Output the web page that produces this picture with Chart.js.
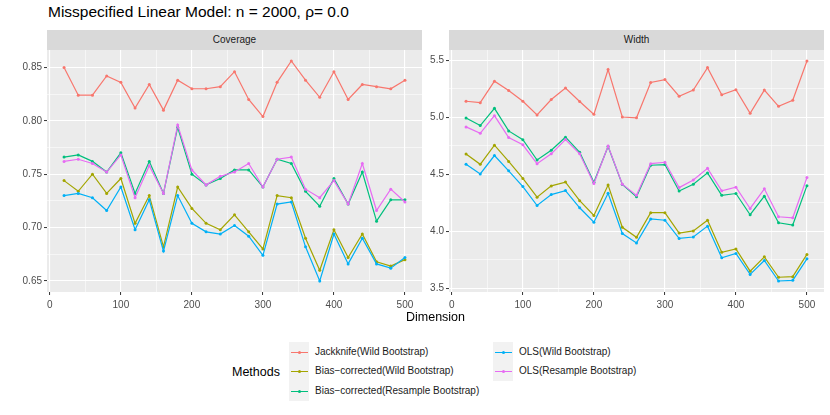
<!DOCTYPE html>
<html>
<head>
<meta charset="utf-8">
<script src="https://cdn.jsdelivr.net/npm/chart.js@4.4.0/dist/chart.umd.min.js"></script>
<style>
  body { margin: 0; background: #fff; font-family: "Liberation Sans", Arial, sans-serif; }
  #page { position: relative; width: 830px; height: 415px; overflow: hidden; }
  .abs { position: absolute; }
  .strip { background: #D9D9D9; color: #1A1A1A; font-size: 10px; text-align: center; line-height: 20px; height: 20px; }
  .panel { position: absolute; }
  .keybox { position: absolute; background: #F2F2F2; }
  .keyline { position: absolute; height: 1.3px; width: 17px; }
  .keydot { position: absolute; width: 3px; height: 3px; border-radius: 50%; }
  .keylab { position: absolute; font-size: 10px; color: #1A1A1A; line-height: 12px; white-space: nowrap; }
</style>
</head>
<body>
<div id="page">
  <div class="abs" style="left:48px; top:3px; font-size:15.5px; color:#000; white-space:nowrap;">Misspecified Linear Model: n = 2000, ρ= 0.0</div>
  <div class="abs strip" style="left:47px; top:30px; width:375px;">Coverage</div>
  <div class="abs strip" style="left:449px; top:30px; width:375px;">Width</div>
  <div class="panel" id="coverageBox" style="left:0; top:50px; width:425px; height:262px;"><canvas id="coverageChart"></canvas></div>
  <div class="panel" id="widthBox" style="left:425px; top:50px; width:405px; height:262px;"><canvas id="widthChart"></canvas></div>
  <div class="abs" style="left:0; width:871px; top:310px; text-align:center; font-size:12.5px; color:#000;">Dimension</div>
  <div class="abs" style="left:232px; top:365px; font-size:12.5px; color:#000;">Methods</div>
  <div id="legend"></div>
</div>

<script>
// --- data ---
const dimension = [20, 40, 60, 80, 100, 120, 140, 160, 180, 200, 220, 240, 260, 280, 300, 320, 340, 360, 380, 400, 420, 440, 460, 480, 500];

const methods = ['Jackknife(Wild Bootstrap)', 'Bias\u2212corrected(Wild Bootstrap)', 'Bias\u2212corrected(Resample Bootstrap)', 'OLS(Wild Bootstrap)', 'OLS(Resample Bootstrap)'];
const colors = ['#F8766D', '#A3A500', '#00BF7D', '#00B0F6', '#E76BF3'];

// Coverage
const jackCoverage    = [0.850, 0.824, 0.824, 0.842, 0.836, 0.812, 0.834, 0.810, 0.838, 0.830, 0.830, 0.832, 0.846, 0.820, 0.804, 0.836, 0.856, 0.838, 0.822, 0.846, 0.820, 0.834, 0.832, 0.830, 0.838];
const bcWildCoverage  = [0.744, 0.734, 0.750, 0.732, 0.746, 0.704, 0.730, 0.682, 0.738, 0.718, 0.704, 0.698, 0.712, 0.696, 0.680, 0.730, 0.728, 0.690, 0.660, 0.698, 0.672, 0.694, 0.668, 0.664, 0.670];
const bcResCoverage   = [0.766, 0.768, 0.762, 0.752, 0.770, 0.732, 0.762, 0.732, 0.794, 0.750, 0.740, 0.746, 0.754, 0.754, 0.738, 0.764, 0.760, 0.734, 0.720, 0.746, 0.722, 0.752, 0.706, 0.726, 0.726];
const olsWildCoverage = [0.730, 0.732, 0.728, 0.716, 0.738, 0.698, 0.726, 0.678, 0.730, 0.704, 0.696, 0.694, 0.702, 0.692, 0.674, 0.722, 0.724, 0.682, 0.650, 0.694, 0.666, 0.690, 0.666, 0.662, 0.672];
const olsResCoverage  = [0.762, 0.764, 0.760, 0.752, 0.768, 0.728, 0.758, 0.732, 0.796, 0.754, 0.740, 0.748, 0.752, 0.760, 0.738, 0.764, 0.766, 0.736, 0.728, 0.744, 0.722, 0.760, 0.716, 0.736, 0.724];

// Width
const jackWidth    = [5.140, 5.128, 5.316, 5.235, 5.140, 5.020, 5.155, 5.256, 5.138, 5.025, 5.418, 5.002, 4.995, 5.305, 5.330, 5.184, 5.238, 5.435, 5.196, 5.241, 5.034, 5.238, 5.096, 5.149, 5.493];
const bcWildWidth  = [4.678, 4.587, 4.755, 4.612, 4.463, 4.299, 4.398, 4.431, 4.268, 4.139, 4.405, 4.035, 3.947, 4.163, 4.163, 3.985, 4.003, 4.097, 3.816, 3.845, 3.650, 3.776, 3.597, 3.602, 3.797];
const bcResWidth   = [4.994, 4.927, 5.078, 4.880, 4.803, 4.625, 4.710, 4.825, 4.692, 4.430, 4.743, 4.410, 4.302, 4.579, 4.585, 4.353, 4.413, 4.512, 4.316, 4.331, 4.145, 4.308, 4.075, 4.055, 4.400];
const olsWildWidth = [4.588, 4.503, 4.664, 4.530, 4.392, 4.226, 4.322, 4.357, 4.206, 4.080, 4.334, 3.980, 3.898, 4.108, 4.097, 3.937, 3.950, 4.045, 3.768, 3.805, 3.622, 3.744, 3.564, 3.570, 3.758];
const olsResWidth  = [4.915, 4.859, 5.014, 4.822, 4.758, 4.592, 4.679, 4.804, 4.679, 4.418, 4.748, 4.413, 4.315, 4.593, 4.605, 4.383, 4.450, 4.552, 4.355, 4.386, 4.200, 4.372, 4.127, 4.118, 4.471];

// Tick labels
const dimTicks = [0, 100, 200, 300, 400, 500];
const coverageTicks = [0.65, 0.70, 0.75, 0.80, 0.85];
const widthTicks = [3.5, 4.0, 4.5, 5.0, 5.5];

document.addEventListener('DOMContentLoaded', function() {

    Chart.defaults.font.family = "'Liberation Sans', Arial, sans-serif";

    // ggplot-like 5% expansion of the data range
    function expand(arrs) {
        const all = [].concat(...arrs);
        const lo = Math.min(...all), hi = Math.max(...all);
        const pad = (hi - lo) * 0.05;
        return [lo - pad, hi + pad];
    }

    // major ticks plus minor ticks halfway between (and outside ends if in range)
    function withMinor(major, min, max) {
        const step = major[1] - major[0];
        const out = major.map(v => ({ value: v, minor: false }));
        for (let i = -1; i < major.length; i++) {
            const m = major[0] + step * (i + 0.5);
            if (m >= min && m <= max) out.push({ value: m, minor: true });
        }
        return out.sort((a, b) => a.value - b.value);
    }

    const panelBg = {
        id: 'panelBg',
        beforeDraw(chart) {
            const a = chart.chartArea, c = chart.ctx;
            c.save();
            c.fillStyle = '#EBEBEB';
            c.fillRect(a.left, a.top, a.right - a.left, a.bottom - a.top);
            c.restore();
        }
    };

    function gridOpts() {
        return {
            color: '#FFFFFF',
            lineWidth: (ctx) => (ctx.tick && ctx.tick.minor ? 0.55 : 1.1),
            drawTicks: true,
            tickLength: 3,
            tickColor: (ctx) => (ctx.tick && ctx.tick.minor ? 'rgba(0,0,0,0)' : '#333333'),
            tickWidth: 1
        };
    }

    // move/resize the holder so the plot area lands on the wanted page rectangle
    function fitToArea(chart, box, target) {
        for (let k = 0; k < 3; k++) {
            const a = chart.chartArea;
            const w = box.clientWidth, h = box.clientHeight;
            box.style.left = (target.left - a.left) + 'px';
            box.style.top = (target.top - a.top) + 'px';
            box.style.width = (w + (target.right - target.left) - (a.right - a.left)) + 'px';
            box.style.height = (h + (target.bottom - target.top) - (a.bottom - a.top)) + 'px';
            chart.resize();
        }
    }

    function makePanel(id, boxId, series, yTicks, digits, yWidth, target) {
        const yr = expand(series);
        const xr = expand([dimension]);
        const datasets = series.map((vals, i) => ({
            label: methods[i],
            data: dimension.map((d, j) => ({ x: d, y: vals[j] })),
            borderColor: colors[i],
            backgroundColor: colors[i],
            pointBackgroundColor: colors[i],
            borderWidth: 1.2,
            pointRadius: 1.5,
            pointBorderWidth: 0,
            tension: 0,
            order: series.length - i
        }));

        const chart = new Chart(document.getElementById(id), {
            type: 'line',
            data: { datasets: datasets },
            options: {
                responsive: true,
                maintainAspectRatio: false,
                animation: false,
                layout: { padding: 0 },
                plugins: { legend: { display: false }, tooltip: { enabled: false } },
                scales: {
                    x: {
                        type: 'linear',
                        min: xr[0], max: xr[1],
                        afterBuildTicks: (s) => { s.ticks = withMinor(dimTicks, xr[0], xr[1]); },
                        afterFit: (s) => { s.height = 20; },
                        border: { display: false },
                        grid: gridOpts(),
                        ticks: {
                            padding: 4,
                            color: '#4D4D4D',
                            font: { size: 10 },
                            maxRotation: 0,
                            autoSkip: false,
                            callback: function(v, i, ticks) { return ticks[i].minor ? '' : String(v); }
                        }
                    },
                    y: {
                        type: 'linear',
                        min: yr[0], max: yr[1],
                        afterBuildTicks: (s) => { s.ticks = withMinor(yTicks, yr[0], yr[1]); },
                        afterFit: (s) => { s.width = yWidth; },
                        border: { display: false },
                        grid: gridOpts(),
                        ticks: {
                            padding: 2,
                            color: '#4D4D4D',
                            font: { size: 10 },
                            autoSkip: false,
                            callback: function(v, i, ticks) { return ticks[i].minor ? '' : Number(v).toFixed(digits); }
                        }
                    }
                }
            },
            plugins: [panelBg]
        });
        fitToArea(chart, document.getElementById(boxId), target);
    }

    makePanel('coverageChart', 'coverageBox', [jackCoverage, bcWildCoverage, bcResCoverage, olsWildCoverage, olsResCoverage],
        coverageTicks, 2, 47, { left: 47, top: 50, right: 422, bottom: 292 });
    makePanel('widthChart', 'widthBox', [jackWidth, bcWildWidth, bcResWidth, olsWildWidth, olsResWidth],
        widthTicks, 1, 24, { left: 449, top: 50, right: 824, bottom: 292 });

    // Legend: two columns, 3 + 2 keys
    const legend = document.getElementById('legend');
    const cols = [{ x: 289, items: [0, 1, 2] }, { x: 493, items: [3, 4] }];
    const top0 = 342, rowH = 19.6;
    cols.forEach(col => {
        const box = document.createElement('div');
        box.className = 'keybox';
        box.style.cssText = `left:${col.x}px; top:${top0}px; width:20px; height:${col.items.length * rowH}px;`;
        legend.appendChild(box);
        col.items.forEach((k, r) => {
            const cy = Math.round(top0 + rowH * r + rowH / 2);
            legend.insertAdjacentHTML('beforeend', `
                <div class="keyline" style="left:${col.x + 1.5}px; top:${cy - 0.5}px; background:${colors[k]}"></div>
                <div class="keydot" style="left:${col.x + 8.5}px; top:${cy - 1}px; background:${colors[k]}"></div>
                <div class="keylab" style="left:${col.x + 26}px; top:${cy - 6}px;">${methods[k]}</div>
            `);
        });
    });
});
</script>
</body>
</html>
